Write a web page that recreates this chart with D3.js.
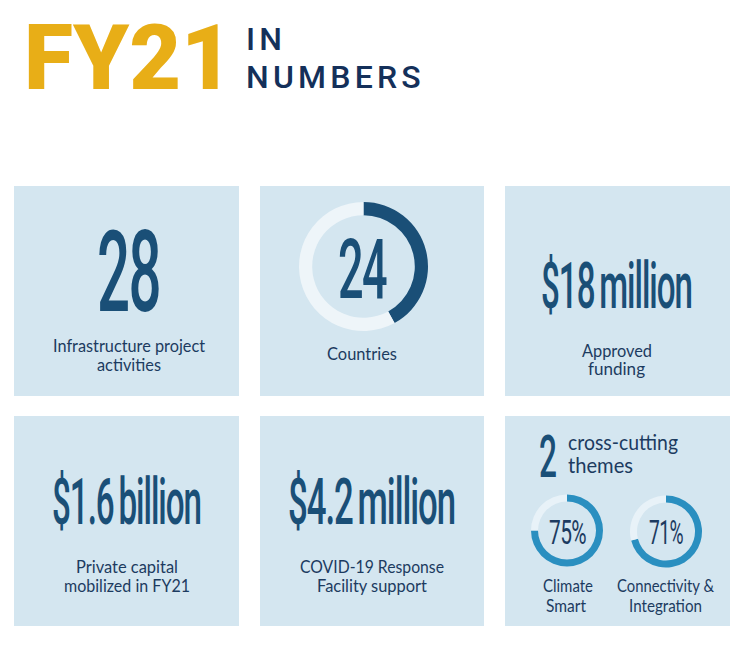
<!DOCTYPE html>
<html><head><meta charset="utf-8">
<script src="https://cdnjs.cloudflare.com/ajax/libs/d3/7.8.5/d3.min.js"></script>
<style>html,body{margin:0;padding:0;background:#fff}svg{display:block}text{font-kerning:normal}</style>
</head><body><div id="c"></div>
<script>
const titleYear = "FY21";
const titleLines = ["IN", "NUMBERS"];
const panelHeadlines = ["28", "24", "$18 million", "$1.6 billion", "$4.2 million", "2"];
const panelLabels = [
  ["Infrastructure project", "activities"],
  ["Countries"],
  ["Approved", "funding"],
  ["Private capital", "mobilized in FY21"],
  ["COVID-19 Response", "Facility support"],
  ["cross-cutting", "themes"]
];
const countryShare = [0.42, 0.58];
const themeNames = [["Climate", "Smart"], ["Connectivity &", "Integration"]];
const themeValues = [75, 71];

const W = 747, H = 648;
const DARK = "#1a4f77", NAVY = "#1c3b60", PANEL = "#d4e6f0";
const svg = d3.select("#c").append("svg").attr("width", W).attr("height", H);
svg.append("rect").attr("width", W).attr("height", H).attr("fill", "#fff");

const colX = d3.scaleOrdinal().domain([0,1,2]).range([14, 260, 505]);
const rowY = d3.scaleOrdinal().domain([0,1]).range([186, 416]);
const PW = [225, 224, 225], PH = 210;

svg.selectAll("rect.panel").data(d3.range(6)).join("rect").attr("class","panel")
  .attr("x", i => colX(i % 3)).attr("y", i => rowY(Math.floor(i / 3)))
  .attr("width", i => PW[i % 3]).attr("height", PH).attr("fill", PANEL);

function fit(str, x0, x1, base, size, weight, fill, family, ls, ws) {
  const t = svg.append("text").text(str).attr("x", x0).attr("y", base)
    .attr("font-family", family).attr("font-size", size).attr("font-weight", weight)
    .attr("fill", fill).attr("textLength", x1 - x0).attr("lengthAdjust", "spacingAndGlyphs");
  if (ls) t.attr("letter-spacing", ls);
  if (ws) t.attr("word-spacing", ws);
  return t;
}
const ROB = "Roboto", LAB = "Lato";

// title
fit(titleYear, 24, 233, 89, 91, 900, "#e8ae17", ROB);
svg.append("text").text(titleLines[0]).attr("x", 246).attr("y", 50)
  .attr("font-family", ROB).attr("font-size", 32).attr("font-weight", 500).attr("fill", "#14305a").attr("letter-spacing", 4.2);
svg.append("text").text(titleLines[1]).attr("x", 246).attr("y", 88)
  .attr("font-family", ROB).attr("font-size", 32).attr("font-weight", 500).attr("fill", "#14305a").attr("letter-spacing", 4.2);

// headlines
const hl = [
  [97, 160, 311, 113, -3, 0, 500], [338, 386, 298, 84, -3, 0, 500], [541, 692, 308, 65, -2, -5, 500],
  [52, 201, 524, 65, -2, -5, 500], [288, 455, 524, 65, -2, -5, 500], [539, 557, 477, 60, 0, 0, 500]
];
panelHeadlines.forEach((s, i) => fit(s, hl[i][0], hl[i][1], hl[i][2], hl[i][3], hl[i][6], DARK, ROB, hl[i][4], hl[i][5]));

// labels
const lb = [
  [[53,205,352],[97,161,371]],
  [[327,397,360]],
  [[582,652,357],[588,645,375]],
  [[76,178,573],[64,190,592]],
  [[300,444,573],[317,427,592]],
  [[568,678,450],[568,633,473]]
];
panelLabels.forEach((ls, i) => ls.forEach((s, j) => {
  const b = lb[i][j];
  fit(s, b[0], b[1], b[2], i === 5 ? 21 : 18, 400, NAVY, LAB);
}));

// donuts
const pie = d3.pie().sort(null).value(d => d);
function donut(vals, cx, cy, r0, r1, col, bg) {
  const g = svg.append("g").attr("transform", `translate(${cx},${cy})`);
  const arc = d3.arc().innerRadius(r0).outerRadius(r1);
  g.selectAll("path").data(pie(vals)).join("path").attr("d", arc)
    .attr("fill", (d, i) => i === 0 ? col : bg);
}
donut(countryShare, 363.5, 266.5, 51.3, 64.5, DARK, "#eef5f9");
const themeX = [567, 666], themeY = [530.5, 531.5];
themeValues.forEach((v, i) => donut([v, 100 - v], themeX[i], themeY[i], 29, 36, "#2a8fc0", "#e8f2f8"));

const pct = [[549, 586], [649, 683]];
themeValues.forEach((v, i) => fit(v + "%", pct[i][0], pct[i][1], 544, 34, 400, NAVY, ROB, -1));
const nm = [[[543,593,592],[546,586,612]],[[617,714,592],[629,702,612]]];
themeNames.forEach((ls, i) => ls.forEach((s, j) => {
  const b = nm[i][j];
  fit(s, b[0], b[1], b[2], 16.5, 400, NAVY, LAB);
}));
</script></body></html>
